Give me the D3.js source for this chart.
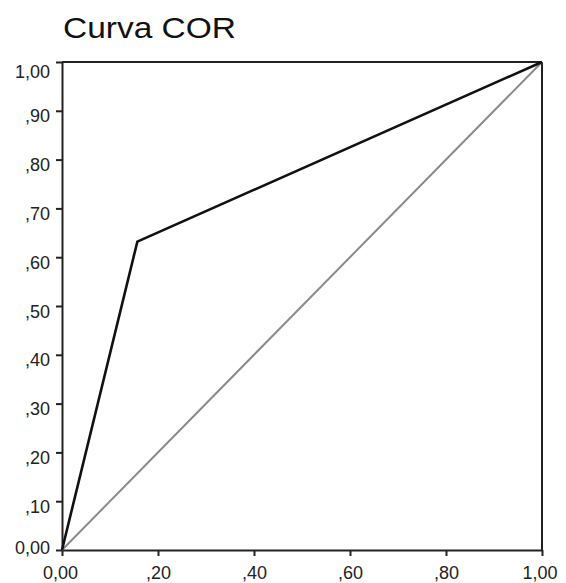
<!DOCTYPE html>
<html>
<head>
<meta charset="utf-8">
<script src="https://cdn.jsdelivr.net/npm/d3@7"></script>
<style>
html,body{margin:0;padding:0;background:#fff;}
svg{display:block;font-family:Arial,"Liberation Sans",Helvetica,sans-serif;}
</style>
</head>
<body>
<svg id="chart" width="566" height="583"></svg>
<script>
const title = "Curva COR";
const tickValues = [0, 0.1, 0.2, 0.3, 0.4, 0.5, 0.6, 0.7, 0.8, 0.9, 1.0];
const yTickLabels = ["0,00", ",10", ",20", ",30", ",40", ",50", ",60", ",70", ",80", ",90", "1,00"];
const xTickValues = [0, 0.2, 0.4, 0.6, 0.8, 1.0];
const xTickLabels = ["0,00", ",20", ",40", ",60", ",80", "1,00"];
const rocX = [0, 0.157, 1.0];
const rocY = [0, 0.632, 1.0];
const refX = [0, 1];
const refY = [0, 1];

const svg = d3.select("#chart");
const L = 62, R = 542, T = 62, B = 550;
const x = d3.scaleLinear().domain([0, 1]).range([L, R]);
const y = d3.scaleLinear().domain([0, 1]).range([B, T]);

// title
svg.append("text")
  .attr("x", 63).attr("y", 38)
  .attr("font-size", 30)
  .attr("textLength", 173)
  .attr("lengthAdjust", "spacingAndGlyphs")
  .attr("fill", "#111")
  .text(title);

// frame (top and right)
svg.append("line").attr("x1", L).attr("x2", R).attr("y1", T).attr("y2", T)
  .attr("stroke", "#222").attr("stroke-width", 2);
svg.append("line").attr("x1", R).attr("x2", R).attr("y1", T).attr("y2", B)
  .attr("stroke", "#222").attr("stroke-width", 2);

// y axis
const yAxis = d3.axisLeft(y).tickValues(tickValues).tickSize(6).tickSizeOuter(0)
  .tickFormat((d, i) => yTickLabels[i]);
const gy = svg.append("g").attr("transform", `translate(${L},0)`).call(yAxis);
gy.select(".domain").attr("stroke", "#222").attr("stroke-width", 2);
gy.selectAll(".tick line").attr("stroke", "#222").attr("stroke-width", 2);
gy.selectAll(".tick text")
  .attr("font-size", 18).attr("fill", "#222")
  .attr("font-family", "Arial, 'Liberation Sans', sans-serif")
  .attr("x", -12)
  .attr("dy", (d) => d === 1 ? "0.85em" : d === 0 ? "0.22em" : "0.62em");

// x axis
const xAxis = d3.axisBottom(x).tickValues(xTickValues).tickSize(6).tickSizeOuter(0)
  .tickFormat((d, i) => xTickLabels[i]);
const gx = svg.append("g").attr("transform", `translate(0,${B})`).call(xAxis);
gx.select(".domain").attr("stroke", "#222").attr("stroke-width", 2);
gx.selectAll(".tick line").attr("stroke", "#222").attr("stroke-width", 2);
gx.selectAll(".tick text")
  .attr("font-size", 18).attr("fill", "#222")
  .attr("font-family", "Arial, 'Liberation Sans', sans-serif")
  .attr("y", 16)
  .attr("x", (d) => d === 0 ? -2 : d === 1 ? -2.5 : 0);

const line = d3.line().x(d => x(d[0])).y(d => y(d[1]));

// reference diagonal
svg.append("path")
  .datum(refX.map((v, i) => [v, refY[i]]))
  .attr("d", line).attr("fill", "none")
  .attr("stroke", "#8a8a8a").attr("stroke-width", 2);

// ROC curve
svg.append("path")
  .datum(rocX.map((v, i) => [v, rocY[i]]))
  .attr("d", line).attr("fill", "none")
  .attr("stroke", "#111").attr("stroke-width", 2.6)
  .attr("stroke-linejoin", "miter");
</script>
</body>
</html>
